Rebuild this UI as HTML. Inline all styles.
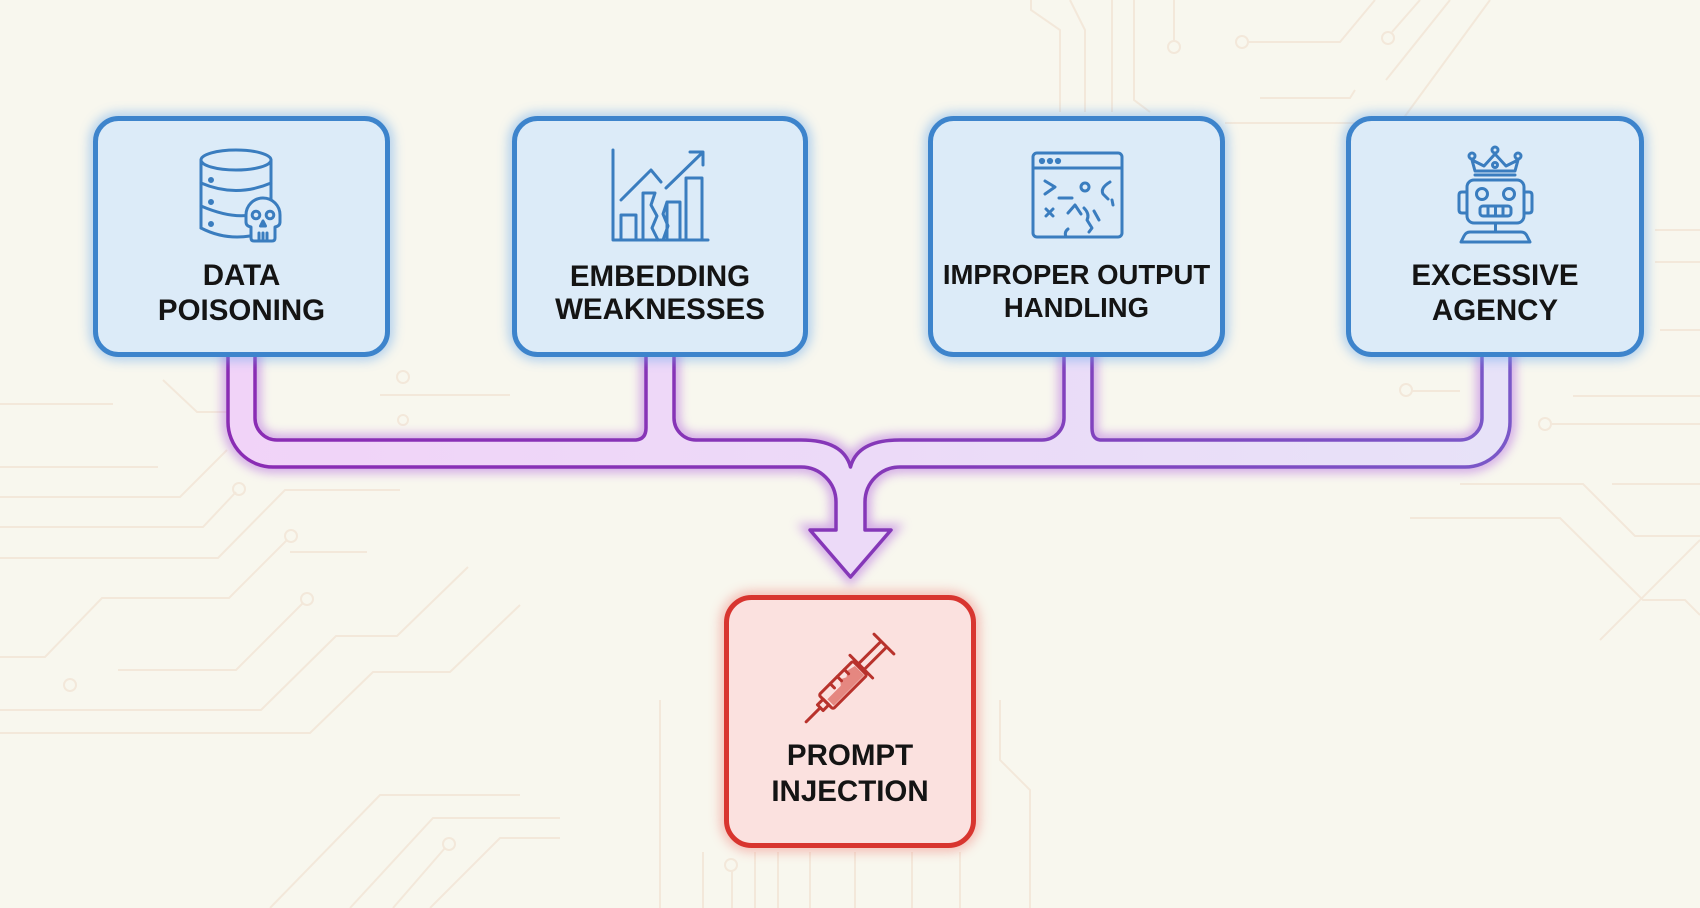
<!DOCTYPE html>
<html>
<head>
<meta charset="utf-8">
<style>
  html,body{margin:0;padding:0;background:#f8f7ee;}
  svg{display:block;}
  .lbl{font-family:"Liberation Sans",Arial,sans-serif;font-weight:bold;fill:#141414;text-anchor:middle;}
  .ic{fill:none;stroke:#3a7dbf;stroke-width:3;stroke-linecap:round;stroke-linejoin:round;}
  .rd{fill:none;stroke:#b8322c;stroke-width:3;stroke-linecap:round;stroke-linejoin:round;}
</style>
</head>
<body>
<svg width="1700" height="908" viewBox="0 0 1700 908" xmlns="http://www.w3.org/2000/svg">
  <defs>
    <filter id="blurB" x="-20%" y="-20%" width="140%" height="140%"><feGaussianBlur stdDeviation="6"/></filter>
    <filter id="blurP" x="-10%" y="-30%" width="120%" height="160%"><feGaussianBlur stdDeviation="5"/></filter>
    <linearGradient id="tubeFill" x1="0" y1="0" x2="1" y2="0">
      <stop offset="0" stop-color="#f1d3f8"/>
      <stop offset="0.5" stop-color="#ecdaf8"/>
      <stop offset="1" stop-color="#e7e2f8"/>
    </linearGradient>
    <linearGradient id="tubeStroke" x1="0" y1="0" x2="1" y2="0">
      <stop offset="0" stop-color="#8a2cb4"/>
      <stop offset="0.5" stop-color="#8538b8"/>
      <stop offset="1" stop-color="#7a58c8"/>
    </linearGradient>
  </defs>

  <rect width="1700" height="908" fill="#f8f7ee"/>

  <!-- faint circuit traces -->
  <g fill="none" stroke="#efdccb" stroke-width="2" opacity="0.55">
    <path d="M0,404 L113,404 M163,380 L197,412 L230,412 M0,467 L158,467 M0,497 L180,497 L227,450 M0,527 L203,527 L236,492 M0,558 L218,558 L285,490 L400,490 M287,540 L229,598 L102,598 L45,657 L0,657 M290,552 L367,552 M303,603 L236,670 L118,670 M0,710 L261,710 L336,636 L397,636 L468,567 M0,733 L310,733 L373,672 L450,672 L520,605 M520,795 L380,795 L270,908 M560,818 L433,818 L350,908 M445,848 L393,908 M560,838 L500,838 L430,908"/>
    <circle cx="239" cy="489" r="6"/><circle cx="291" cy="536" r="6"/><circle cx="307" cy="599" r="6"/><circle cx="70" cy="685" r="6"/><circle cx="449" cy="844" r="6"/>
    <path d="M1031,0 L1031,10 L1060,30 L1060,112 M1070,0 L1085,30 L1085,112 M1112,0 L1112,112 M1134,0 L1134,100 L1150,112 M1174,40 L1174,0 M1248,42 L1340,42 L1375,0 M1392,32 L1420,0 M1386,80 L1450,0 M1260,98 L1350,98 L1355,90 M1225,123 L1400,123 L1490,0"/>
    <circle cx="1174" cy="47" r="6"/><circle cx="1242" cy="42" r="6"/><circle cx="1388" cy="38" r="6"/>
    <path d="M1412,391 L1460,391 M1573,396 L1700,396 M1552,424 L1700,424 M1460,484 L1583,484 L1635,536 L1700,536 M1612,484 L1700,484 M1410,518 L1560,518 L1643,600 L1685,600 L1700,615 M1655,230 L1700,230 M1655,262 L1700,262 M1660,330 L1700,330 M1600,640 L1700,540"/>
    <circle cx="1406" cy="390" r="6"/><circle cx="1545" cy="424" r="6"/>
    <path d="M703,852 L703,908 M732,871 L732,908 M755,852 L755,908 M778,852 L778,908 M810,852 L810,908 M855,852 L855,908 M912,852 L912,908 M960,852 L960,908 M660,700 L660,908 M1000,700 L1000,760 L1030,790 L1030,908"/>
    <circle cx="731" cy="865" r="6"/>
    <path d="M380,395 L510,395 M420,440 L500,440"/>
    <circle cx="403" cy="377" r="6"/><circle cx="403" cy="420" r="5"/>
  </g>

  <!-- connector glow -->
  <path d="M228,350 L228,422 A45,45 0 0 0 273,467 L801,467 A35,35 0 0 1 836,502 L836,530 L810,530 L850.5,577 L891,530 L865,530 L865,502 A35,35 0 0 1 900,467 L1465,467 A45,45 0 0 0 1510,422 L1510,350 L1482,350 L1482,418 A22,22 0 0 1 1460,440 L1100,440 Q1092,439 1092,428 L1092,350 L1064,350 L1064,418 A22,22 0 0 1 1042,440 L900,440 C870,440 855,450 850.5,467 C846,450 831,440 801,440 L696,440 A22,22 0 0 1 674,418 L674,350 L646,350 L646,428 Q646,439 636,440 L277,440 A22,22 0 0 1 255,418 L255,350 Z" fill="none" stroke="#b46ae0" stroke-width="12" opacity="0.55" filter="url(#blurP)"/>
  <!-- connector -->
  <path d="M228,350 L228,422 A45,45 0 0 0 273,467 L801,467 A35,35 0 0 1 836,502 L836,530 L810,530 L850.5,577 L891,530 L865,530 L865,502 A35,35 0 0 1 900,467 L1465,467 A45,45 0 0 0 1510,422 L1510,350 L1482,350 L1482,418 A22,22 0 0 1 1460,440 L1100,440 Q1092,439 1092,428 L1092,350 L1064,350 L1064,418 A22,22 0 0 1 1042,440 L900,440 C870,440 855,450 850.5,467 C846,450 831,440 801,440 L696,440 A22,22 0 0 1 674,418 L674,350 L646,350 L646,428 Q646,439 636,440 L277,440 A22,22 0 0 1 255,418 L255,350 Z" fill="url(#tubeFill)" stroke="url(#tubeStroke)" stroke-width="3.5" stroke-linejoin="round"/>

  <!-- box glows -->
  <g filter="url(#blurB)" fill="none" stroke="#6aa9ec" stroke-width="9" opacity="0.7">
    <rect x="95.5" y="118.5" width="292" height="236" rx="23"/>
    <rect x="514.5" y="118.5" width="291" height="236" rx="23"/>
    <rect x="930.5" y="118.5" width="292" height="236" rx="23"/>
    <rect x="1348.5" y="118.5" width="293" height="236" rx="23"/>
  </g>
  <rect x="726.5" y="597.5" width="247" height="248" rx="25" fill="none" stroke="#f08a84" stroke-width="10" opacity="0.7" filter="url(#blurB)"/>

  <!-- boxes -->
  <g fill="#dcebf8" stroke="#3d84cc" stroke-width="5">
    <rect x="95.5" y="118.5" width="292" height="236" rx="23"/>
    <rect x="514.5" y="118.5" width="291" height="236" rx="23"/>
    <rect x="930.5" y="118.5" width="292" height="236" rx="23"/>
    <rect x="1348.5" y="118.5" width="293" height="236" rx="23"/>
  </g>
  <rect x="726.5" y="597.5" width="247" height="248" rx="25" fill="#fbe1df" stroke="#d8352f" stroke-width="5"/>

  <!-- Icon 1: database + skull -->
  <g class="ic">
    <ellipse cx="236" cy="160" rx="35" ry="10"/>
    <path d="M201,160 L201,228 M271,160 L271,200"/>
    <path d="M201,183 Q236,198 271,183"/>
    <path d="M201,206 Q236,221 258,213"/>
    <path d="M201,228 Q224,240 250,236"/>
    <circle cx="211" cy="180" r="1.5" fill="#3a7dbf"/>
    <circle cx="211" cy="202" r="1.5" fill="#3a7dbf"/>
    <circle cx="211" cy="224" r="1.5" fill="#3a7dbf"/>
    <path d="M246,215 A17,17 0 1 1 280,215 L280,222 Q280,226 275,227 L275,238 Q275,241 272,241 L254,241 Q251,241 251,238 L251,227 Q246,226 246,222 Z" fill="#dcebf8"/>
    <circle cx="256" cy="215" r="3.8"/>
    <circle cx="270" cy="215" r="3.8"/>
    <path d="M263,221 L260.5,226 L265.5,226 Z"/>
    <path d="M259,233 L259,240 M263,233 L263,240 M267,233 L267,240"/>
  </g>

  <!-- Icon 2: chart -->
  <g class="ic">
    <path d="M613,150 L613,240 L708,240"/>
    <rect x="621" y="215" width="15" height="25"/>
    <path d="M643,240 L643,193 L655,193 L651,205 L657,216 L652,228 L658,240"/>
    <path d="M667,240 L667,202 L680,202 L680,240 M667,202 L663,214 L668,226 L663,240"/>
    <rect x="686" y="178" width="16" height="62"/>
    <path d="M621,200 L651,170 L661,182"/>
    <path d="M666,188 L702,153"/>
    <path d="M690,152 L703,152 L703,165"/>
  </g>

  <!-- Icon 3: broken window -->
  <g class="ic">
    <rect x="1033" y="153" width="89" height="84" rx="4"/>
    <path d="M1033,168 L1122,168"/>
    <circle cx="1042" cy="161" r="1.6" fill="#3a7dbf"/>
    <circle cx="1050" cy="161" r="1.6" fill="#3a7dbf"/>
    <circle cx="1058" cy="161" r="1.6" fill="#3a7dbf"/>
    <path d="M1045,181 L1055,187 L1045,194"/>
    <path d="M1059,198 L1072,198"/>
    <circle cx="1085" cy="187" r="4"/>
    <path d="M1110,182 Q1100,188 1103,194 L1108,199 M1112,200 L1113,205"/>
    <path d="M1046,209 L1053,216 M1053,209 L1046,216"/>
    <path d="M1068,213 L1075,205 L1081,214"/>
    <path d="M1084,208 Q1090,214 1087,220 L1092,228 L1089,232"/>
    <path d="M1094,211 L1099,220"/>
    <path d="M1066,237 Q1064,232 1068,229"/>
  </g>

  <!-- Icon 4: robot with crown -->
  <g class="ic">
    <path d="M1475,171 L1472,160 L1484,166 L1495,154 L1506,166 L1518,160 L1515,171 Z"/>
    <circle cx="1472" cy="156" r="3"/>
    <circle cx="1495" cy="150" r="3"/>
    <circle cx="1518" cy="156" r="3"/>
    <circle cx="1495" cy="165" r="2.5"/>
    <path d="M1475,175 L1515,175"/>
    <rect x="1467" y="180" width="57" height="43" rx="7"/>
    <path d="M1467,192 L1462,192 Q1459,192 1459,195 L1459,210 Q1459,213 1462,213 L1467,213"/>
    <path d="M1524,192 L1529,192 Q1532,192 1532,195 L1532,210 Q1532,213 1529,213 L1524,213"/>
    <circle cx="1482" cy="194" r="5.5"/>
    <circle cx="1509" cy="194" r="5.5"/>
    <rect x="1480" y="206" width="31" height="10" rx="3"/>
    <path d="M1488,206 L1488,216 M1495.5,206 L1495.5,216 M1503,206 L1503,216"/>
    <path d="M1495.5,223 L1495.5,232"/>
    <path d="M1461,242 L1464,236 Q1466,232 1470,232 L1521,232 Q1525,232 1527,236 L1530,242 Z"/>
  </g>

  <!-- Icon 5: syringe -->
  <g transform="translate(850,678) rotate(-45)">
    <path d="M-31,-1 L-12,-1 L-8,-6 L-2,-3 L4,-7 L12,-5 L12,8 L-31,8 Z" fill="#e58780" stroke="none"/>
    <g class="rd">
      <path d="M-62,0 L-42,0"/>
      <path d="M-42,-4 L-34,-4 L-34,4 L-42,4 Z"/>
      <rect x="-34" y="-10" width="48" height="20" rx="2"/>
      <path d="M-18,-10 L-18,-4 M-8,-10 L-8,-4 M2,-10 L2,-4"/>
      <path d="M16,-16 L16,16"/>
      <path d="M16,-4 L46,-4 M16,4 L46,4"/>
      <path d="M48,-14 L48,14"/>
    </g>
  </g>

  <!-- labels -->
  <text class="lbl" x="241.5" y="285" font-size="29.5">DATA</text>
  <text class="lbl" x="241.5" y="320" font-size="29.5">POISONING</text>
  <text class="lbl" x="660" y="286" font-size="29.5">EMBEDDING</text>
  <text class="lbl" x="660" y="319" font-size="29.5">WEAKNESSES</text>
  <text class="lbl" x="1076.5" y="284" font-size="27.5">IMPROPER OUTPUT</text>
  <text class="lbl" x="1076.5" y="317" font-size="27.5">HANDLING</text>
  <text class="lbl" x="1495" y="285" font-size="29.5">EXCESSIVE</text>
  <text class="lbl" x="1495" y="320" font-size="29.5">AGENCY</text>
  <text class="lbl" x="850" y="765" font-size="29.5">PROMPT</text>
  <text class="lbl" x="850" y="801" font-size="29.5">INJECTION</text>
</svg>
</body>
</html>
